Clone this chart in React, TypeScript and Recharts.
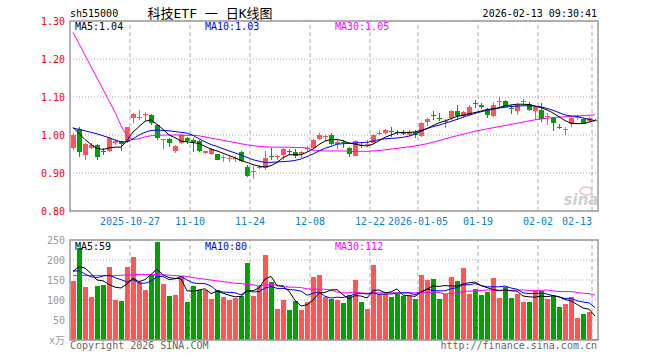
import { ComposedChart, Bar, Line, XAxis, YAxis, CartesianGrid, ReferenceLine } from 'recharts';

// daily OHLC, 88 sessions (2025-10-13 .. 2026-02-13)
const open = [
  0.965, 1.016, 0.948, 0.966, 0.975, 0.957, 0.958, 0.98, 0.983, 0.982,
  1.045, 1.046, 1.054, 1.053, 1.027, 0.986, 0.99, 0.959, 0.978, 0.992,
  0.988, 0.983, 0.953, 0.95, 0.95, 0.939, 0.937, 0.938, 0.954, 0.917,
  0.902, 0.913, 0.914, 0.946, 0.942, 0.948, 0.958, 0.955, 0.95, 0.963,
  0.966, 0.99, 0.996, 1.0, 0.977, 0.981, 0.967, 0.946, 0.975, 0.975,
  0.979, 1.004, 1.005, 1.011, 1.008, 1.006, 1.0, 1.009, 0.997, 1.034,
  1.052, 1.046, 1.035, 1.045, 1.062, 1.049, 1.053, 1.085, 1.08, 1.067,
  1.049, 1.087, 1.09, 1.07, 1.062, 1.087, 1.082, 1.062, 1.067, 1.048,
  1.045, 1.021, 1.013, 1.029, 1.045, 1.043, 1.037, 1.04,
];
const close = [
  1.0, 0.954, 0.976, 0.975, 0.941, 0.954, 0.992, 0.983, 0.977, 1.02,
  1.055, 1.048, 1.056, 1.032, 0.991, 0.989, 0.979, 0.972, 1.0, 0.983,
  0.982, 0.957, 0.957, 0.963, 0.935, 0.942, 0.939, 0.94, 0.931, 0.891,
  0.905, 0.916, 0.94, 0.943, 0.945, 0.963, 0.954, 0.944, 0.955, 0.965,
  0.988, 1.0, 0.998, 0.977, 0.981, 0.978, 0.95, 0.985, 0.972, 0.977,
  1.0, 1.006, 1.014, 1.009, 1.006, 1.004, 1.009, 1.0, 1.031, 1.042,
  1.05, 1.044, 1.037, 1.062, 1.049, 1.06, 1.075, 1.083, 1.074, 1.053,
  1.078, 1.089, 1.075, 1.068, 1.08, 1.089, 1.067, 1.073, 1.042, 1.05,
  1.032, 1.019, 1.015, 1.045, 1.047, 1.03, 1.044, 1.038,
];
const high = [
  1.005, 1.02, 0.978, 0.978, 0.976, 0.966, 0.996, 0.99, 0.984, 1.022,
  1.058, 1.065, 1.06, 1.055, 1.03, 0.99, 0.992, 0.973, 1.003, 0.996,
  0.992, 0.986, 0.959, 0.965, 0.951, 0.948, 0.946, 0.946, 0.958, 0.92,
  0.919, 0.92, 0.957, 0.967, 0.948, 0.965, 0.963, 0.964, 0.957, 0.97,
  0.99, 1.006, 1.0, 1.005, 0.988, 0.988, 0.968, 0.988, 0.982, 0.986,
  1.003, 1.012, 1.015, 1.021, 1.012, 1.012, 1.012, 1.012, 1.033, 1.045,
  1.062, 1.058, 1.042, 1.066, 1.08, 1.063, 1.078, 1.093, 1.083, 1.072,
  1.087, 1.099, 1.091, 1.078, 1.083, 1.096, 1.086, 1.075, 1.084, 1.058,
  1.046, 1.03, 1.02, 1.046, 1.053, 1.046, 1.047, 1.041,
];
const low = [
  0.96, 0.941, 0.935, 0.963, 0.935, 0.948, 0.955, 0.973, 0.957, 0.98,
  1.032, 1.04, 1.038, 1.027, 0.988, 0.964, 0.968, 0.953, 0.976, 0.977,
  0.955, 0.955, 0.95, 0.948, 0.934, 0.928, 0.93, 0.93, 0.929, 0.889,
  0.884, 0.91, 0.909, 0.935, 0.933, 0.933, 0.948, 0.94, 0.94, 0.955,
  0.963, 0.988, 0.983, 0.975, 0.963, 0.966, 0.941, 0.945, 0.966, 0.968,
  0.978, 0.999, 1.003, 0.996, 0.999, 0.999, 0.998, 0.993, 0.995, 1.023,
  1.04, 1.036, 1.018, 1.04, 1.04, 1.046, 1.05, 1.071, 1.068, 1.044,
  1.047, 1.075, 1.073, 1.055, 1.052, 1.078, 1.064, 1.04, 1.034, 1.027,
  1.01, 1.015, 1.0, 1.022, 1.04, 1.028, 1.034, 1.036,
];

// price moving averages as drawn
const ma5 = [
  1.02, 1.004, 0.988, 0.975, 0.965, 0.962, 0.966, 0.968, 0.968, 0.985,
  1.008, 1.022, 1.036, 1.04, 1.028, 1.015, 1.0, 0.993, 0.984, 0.982,
  0.98, 0.978, 0.97, 0.963, 0.958, 0.952, 0.946, 0.94, 0.933, 0.928,
  0.922, 0.918, 0.916, 0.919, 0.928, 0.94, 0.948, 0.948, 0.948, 0.955,
  0.963, 0.975, 0.984, 0.988, 0.988, 0.985, 0.979, 0.976, 0.973, 0.971,
  0.976, 0.985, 0.994, 1.0, 1.006, 1.007, 1.007, 1.008, 1.012, 1.017,
  1.025, 1.032, 1.037, 1.043, 1.049, 1.052, 1.056, 1.059, 1.063, 1.067,
  1.069, 1.072, 1.077, 1.079, 1.081, 1.081, 1.08, 1.076, 1.072, 1.066,
  1.058, 1.048, 1.038, 1.031, 1.03, 1.03, 1.034, 1.038,
];
const ma10 = [
  1.018, 1.015, 1.011, 1.007, 1.003, 0.998, 0.993, 0.987, 0.982, 0.982,
  0.99, 1.0, 1.007, 1.012, 1.013, 1.012, 1.011, 1.009, 1.007, 1.005,
  0.999, 0.99, 0.982, 0.975, 0.97, 0.964, 0.958, 0.953, 0.947, 0.941,
  0.935, 0.931, 0.928, 0.928, 0.929, 0.93, 0.931, 0.933, 0.937, 0.943,
  0.95, 0.958, 0.965, 0.97, 0.976, 0.977, 0.978, 0.979, 0.98, 0.981,
  0.984, 0.988, 0.99, 0.991, 0.992, 0.994, 0.997, 1.002, 1.01, 1.017,
  1.022, 1.026, 1.031, 1.036, 1.041, 1.047, 1.052, 1.057, 1.061, 1.065,
  1.068, 1.071, 1.073, 1.075, 1.076, 1.077, 1.077, 1.076, 1.074, 1.07,
  1.065, 1.059, 1.053, 1.05, 1.049, 1.045, 1.041, 1.038,
];
const ma30 = [
  1.27, 1.24, 1.21, 1.18, 1.15, 1.12, 1.09, 1.06, 1.025, 0.997,
  0.988, 0.99, 0.995, 0.998, 0.999, 1.0, 1.0, 1.0, 1.0, 0.999,
  0.999, 0.998, 0.995, 0.992, 0.989, 0.986, 0.983, 0.98, 0.977, 0.974,
  0.972, 0.97, 0.969, 0.968, 0.968, 0.968, 0.968, 0.967, 0.967, 0.966,
  0.96, 0.959, 0.958, 0.958, 0.958, 0.958, 0.957, 0.957, 0.957, 0.957,
  0.958, 0.959, 0.961, 0.963, 0.965, 0.967, 0.969, 0.971, 0.974, 0.977,
  0.981, 0.985, 0.99, 0.994, 0.998, 1.002, 1.006, 1.01, 1.013, 1.016,
  1.019, 1.022, 1.025, 1.028, 1.031, 1.034, 1.037, 1.04, 1.042, 1.044,
  1.046, 1.047, 1.048, 1.049, 1.05, 1.051, 1.052, 1.053,
];

// volume, 万手
const vol = [
  147, 229, 132, 107, 135, 137, 182, 100, 97, 182,
  207, 145, 125, 162, 245, 140, 110, 112, 160, 95,
  135, 125, 125, 102, 125, 107, 100, 105, 110, 192,
  110, 135, 212, 145, 77, 100, 75, 97, 75, 95,
  157, 162, 107, 102, 100, 92, 112, 150, 95, 77,
  187, 115, 115, 107, 115, 110, 110, 102, 162, 150,
  152, 102, 115, 157, 147, 180, 115, 127, 112, 120,
  155, 105, 132, 105, 115, 95, 95, 125, 122, 102,
  110, 83, 90, 107, 55, 65, 70, 2,
];
const vma5 = [
  172, 183, 180, 166, 150, 148, 139, 132, 130, 140,
  154, 146, 151, 164, 177, 163, 156, 154, 153, 123,
  122, 125, 128, 116, 122, 117, 112, 108, 109, 123,
  123, 130, 152, 159, 136, 134, 122, 99, 85, 88,
  100, 117, 119, 125, 126, 113, 103, 111, 110, 105,
  124, 125, 118, 120, 128, 112, 111, 109, 120, 127,
  135, 134, 136, 135, 135, 140, 143, 145, 136, 131,
  126, 124, 125, 123, 122, 110, 108, 107, 110, 108,
  111, 108, 101, 98, 89, 80, 77, 60,
];
const vma10 = [
  172, 173, 165, 158, 156, 160, 162, 156, 151, 145,
  151, 142, 142, 147, 158, 159, 151, 153, 159, 150,
  143, 141, 141, 135, 123, 120, 119, 118, 113, 123,
  120, 121, 130, 134, 129, 129, 126, 125, 122, 112,
  117, 120, 109, 105, 107, 106, 110, 115, 117, 115,
  118, 114, 115, 115, 117, 118, 118, 113, 120, 127,
  124, 123, 123, 128, 131, 138, 138, 141, 136, 133,
  133, 133, 135, 130, 127, 118, 116, 116, 117, 115,
  111, 108, 104, 104, 98, 95, 93, 81,
];
const vma30 = [
  161, 161, 161, 161, 161, 161, 161, 161, 162, 162,
  163, 164, 164, 164, 164, 163, 162, 161, 160, 159,
  156, 154, 152, 150, 148, 146, 144, 142, 141, 139,
  138, 135, 138, 139, 137, 136, 132, 132, 131, 128,
  127, 127, 127, 125, 120, 118, 118, 120, 117, 117,
  118, 118, 118, 118, 118, 118, 118, 118, 120, 118,
  120, 119, 115, 116, 118, 121, 122, 123, 124, 125,
  125, 123, 124, 124, 125, 125, 124, 123, 124, 125,
  123, 121, 121, 121, 119, 117, 116, 112,
];

const tickIdx = [10, 20, 30, 40, 50, 58, 68, 78, 87];
const tickLabels = ['2025-10-27', '11-10', '11-24', '12-08', '12-22', '2026-01-05', '01-19', '02-02', '02-13'];
const priceTicks = [0.8, 0.9, 1.0, 1.1, 1.2, 1.3];
const volTicks = [0, 50, 100, 150, 200, 250];

const UP = '#ff5555';
const DOWN = '#03a003';
const MONO = '"DejaVu Sans Mono", "Noto Sans CJK SC", monospace';

const rows = open.map((o, i) => ({
  i,
  open: o,
  close: close[i],
  high: high[i],
  low: low[i],
  range: [low[i], high[i]],
  vol: vol[i],
  ma5: ma5[i],
  ma10: ma10[i],
  ma30: ma30[i],
  vma5: vma5[i],
  vma10: vma10[i],
  vma30: vma30[i],
}));

function Candle(props: any) {
  const { x, y, width, height, payload } = props;
  const { open: o, close: c, high: h, low: l } = payload;
  const left = Math.floor(x);
  const w = Math.round(width);
  const top = Math.min(y, y + height);
  const span = Math.abs(height);
  const py = (v: number) => (h === l ? top : top + ((h - v) / (h - l)) * span);
  const color = c >= o ? UP : DOWN;
  const bTop = py(Math.max(o, c));
  const bBot = py(Math.min(o, c));
  return (
    <g shapeRendering="crispEdges">
      <line x1={left + w / 2} x2={left + w / 2} y1={top} y2={top + span} stroke={color} />
      <rect x={left} y={bTop} width={w} height={Math.max(1, bBot - bTop)} fill={color} />
    </g>
  );
}

function VolBar(props: any) {
  const { x, y, width, height, payload } = props;
  return (
    <rect
      x={Math.floor(x)}
      y={y}
      width={Math.round(width)}
      height={Math.max(1, height)}
      fill={payload.close >= payload.open ? UP : DOWN}
      shapeRendering="crispEdges"
    />
  );
}

function DateTick(props: any) {
  const { x, y, payload } = props;
  const k = tickIdx.indexOf(payload.value);
  const last = k === tickIdx.length - 1;
  return (
    <text
      x={x - 3}
      y={y}
      dy="0.71em"
      textAnchor={last ? 'end' : 'middle'}
      fill="#0a7fd6"
      fontSize={10}
      fontFamily={MONO}
    >
      {tickLabels[k]}
    </text>
  );
}

const gridLines = (prefix: string) =>
  tickIdx.map((t) => (
    <ReferenceLine
      key={prefix + t}
      x={t}
      position="start"
      stroke="#aaa"
      strokeDasharray="4 3"
    />
  ));

export default function App() {
  return (
    <div style={{ position: 'absolute', left: 0, top: 0, width: 660, height: 360, background: '#fff' }}>
      <div style={{ position: 'absolute', left: 0, top: 0 }}>
        <ComposedChart width={660} height={230} data={rows} margin={{ top: 21, right: 62, bottom: 0, left: 0 }}>
          <CartesianGrid vertical={false} stroke="#aaa" strokeDasharray="1 2" />
          {gridLines('p')}
          <XAxis
            dataKey="i"
            type="category"
            ticks={tickIdx}
            interval={0}
            height={19}
            tickLine={false}
            axisLine={false}
            tickSize={5}
            tickMargin={2}
            tick={<DateTick />}
          />
          <YAxis
            width={70}
            domain={[0.8, 1.3]}
            ticks={priceTicks}
            interval={0}
            allowDataOverflow
            tickLine={false}
            axisLine={false}
            tickSize={3}
            tickMargin={2}
            tickFormatter={(v: number) => v.toFixed(2)}
            tick={{ fill: '#ff0000', fontSize: 10, fontFamily: MONO }}
          />
          <Bar dataKey="range" barSize={5} shape={<Candle />} isAnimationActive={false} />
          <Line dataKey="ma30" stroke="#ff00ff" strokeWidth={1} dot={false} activeDot={false} isAnimationActive={false} />
          <Line dataKey="ma10" stroke="#0000ff" strokeWidth={1} dot={false} activeDot={false} isAnimationActive={false} />
          <Line dataKey="ma5" stroke="#000000" strokeWidth={1} dot={false} activeDot={false} isAnimationActive={false} />
        </ComposedChart>
      </div>

      <div style={{ position: 'absolute', left: 0, top: 230 }}>
        <ComposedChart width={660} height={130} data={rows} margin={{ top: 10, right: 62, bottom: 20, left: 0 }}>
          <CartesianGrid vertical={false} stroke="#aaa" strokeDasharray="1 2" />
          {gridLines('v')}
          <XAxis dataKey="i" type="category" hide />
          <YAxis
            width={70}
            domain={[0, 250]}
            ticks={volTicks}
            interval={0}
            tickLine={false}
            axisLine={false}
            tickSize={3}
            tickMargin={2}
            tickFormatter={(v: number) => (v === 0 ? 'x万' : String(v))}
            tick={{ fill: '#999', fontSize: 10, fontFamily: MONO }}
          />
          <Bar dataKey="vol" barSize={5} shape={<VolBar />} isAnimationActive={false} />
          <Line dataKey="vma30" stroke="#ff00ff" strokeWidth={1} dot={false} activeDot={false} isAnimationActive={false} />
          <Line dataKey="vma10" stroke="#0000ff" strokeWidth={1} dot={false} activeDot={false} isAnimationActive={false} />
          <Line dataKey="vma5" stroke="#000000" strokeWidth={1} dot={false} activeDot={false} isAnimationActive={false} />
        </ComposedChart>
      </div>

      {/* frames, captions, legends */}
      <svg width={660} height={360} style={{ position: 'absolute', left: 0, top: 0, pointerEvents: 'none' }} fontFamily={MONO}>
        <rect x={70} y={21} width={528} height={190} fill="none" stroke="#999" strokeWidth={1.5} />
        <rect x={70} y={240} width={528} height={100} fill="none" stroke="#999" strokeWidth={1.5} />

        <text x={70} y={17} fontSize={10} fill="#000">sh515000</text>
        <text x={210} y={18} fontSize={13} fill="#000" textAnchor="middle">科技ETF 一 日K线图</text>
        <text x={597} y={17} fontSize={10} fill="#000" textAnchor="end">2026-02-13 09:30:41</text>

        <text x={75} y={30} fontSize={10} fill="#000">MA5:1.04</text>
        <text x={205} y={30} fontSize={10} fill="#0000ff">MA10:1.03</text>
        <text x={335} y={30} fontSize={10} fill="#ff00ff">MA30:1.05</text>

        <text x={75} y={250} fontSize={10} fill="#000">MA5:59</text>
        <text x={205} y={250} fontSize={10} fill="#0000ff">MA10:80</text>
        <text x={335} y={250} fontSize={10} fill="#ff00ff">MA30:112</text>

        <text x={581} y={205} fontSize={15} fontWeight="bold" fontStyle="italic" fill="#cfcfcf" textAnchor="middle" fontFamily="DejaVu Sans">sina</text>
        <ellipse cx={586} cy={191} rx={6} ry={4} fill="none" stroke="#f0c0c0" strokeWidth={1.5} />

        <text x={70} y={349} fontSize={10} fill="#666">Copyright 2026 SINA.COM</text>
        <text x={597} y={349} fontSize={10} fill="#666" textAnchor="end">http://finance.sina.com.cn</text>
      </svg>
    </div>
  );
}
